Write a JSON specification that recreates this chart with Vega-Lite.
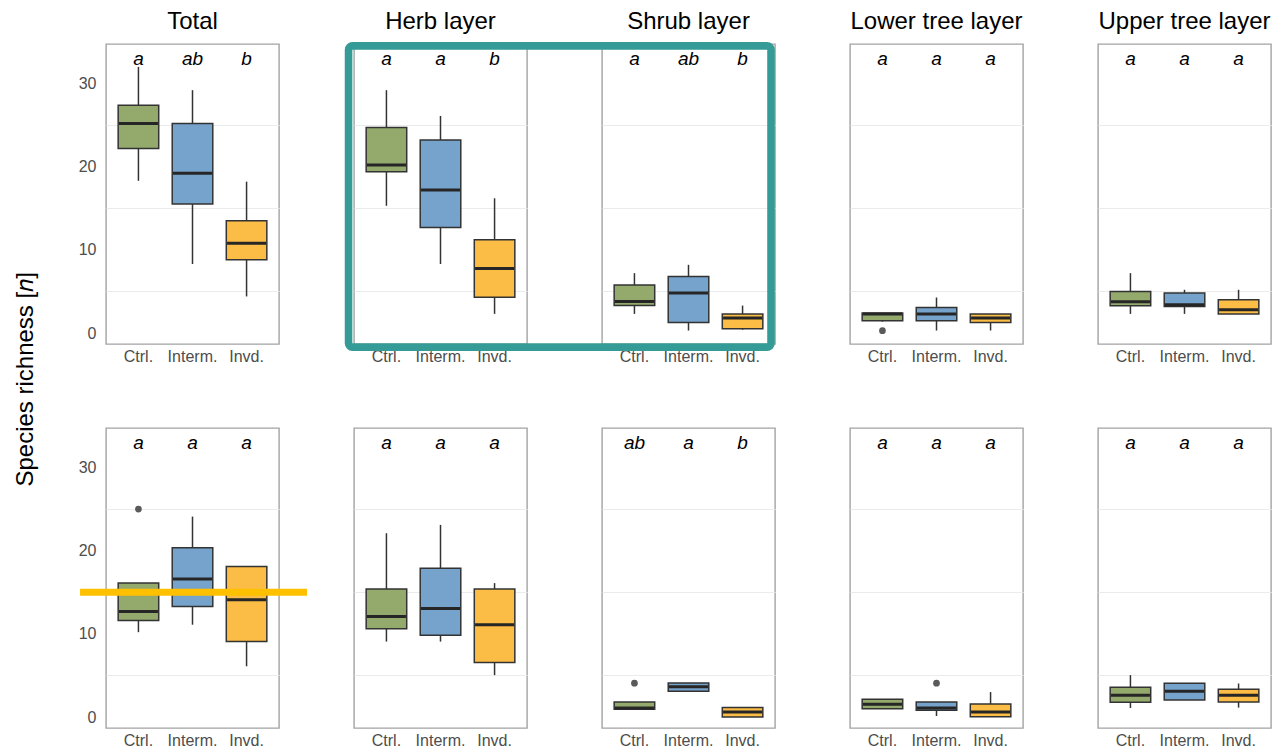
{
  "$schema": "https://vega.github.io/schema/vega-lite/v6.json",
  "background": "white",
  "padding": {"left": 13, "top": 10, "right": 5, "bottom": 0},
  "title": {
    "text": "Species richness [𝑛]",
    "orient": "left",
    "anchor": "middle",
    "fontSize": 24,
    "fontWeight": "normal",
    "color": "black",
    "font": "Liberation Sans",
    "offset": 38
  },
  "config": {
    "font": "Liberation Sans",
    "view": {"stroke": "#a3a3a3", "strokeWidth": 1.4},
    "axis": {
      "labelFont": "Liberation Sans",
      "labelFontSize": 16,
      "labelColor": "#4d4d4d",
      "ticks": false,
      "domain": false,
      "titleFont": "Liberation Sans"
    },
    "header": {"labelFont": "Liberation Sans"}
  },
  "data": {
    "values": [
      {"survey": "top", "layer": "Total", "part": "box", "trt": "Ctrl.", "lo": 18.3, "q1": 22.2, "med": 25.2, "q3": 27.4, "hi": 32, "sig": "a"},
      {"survey": "top", "layer": "Total", "part": "box", "trt": "Interm.", "lo": 8.3, "q1": 15.5, "med": 19.2, "q3": 25.2, "hi": 29.2, "sig": "ab"},
      {"survey": "top", "layer": "Total", "part": "box", "trt": "Invd.", "lo": 4.4, "q1": 8.8, "med": 10.8, "q3": 13.5, "hi": 18.2, "sig": "b"},
      {"survey": "top", "layer": "Herb layer", "part": "box", "trt": "Ctrl.", "lo": 15.3, "q1": 19.4, "med": 20.2, "q3": 24.7, "hi": 29.2, "sig": "a"},
      {"survey": "top", "layer": "Herb layer", "part": "box", "trt": "Interm.", "lo": 8.3, "q1": 12.7, "med": 17.2, "q3": 23.2, "hi": 26.1, "sig": "a"},
      {"survey": "top", "layer": "Herb layer", "part": "box", "trt": "Invd.", "lo": 2.3, "q1": 4.3, "med": 7.75, "q3": 11.2, "hi": 16.2, "sig": "b"},
      {"survey": "top", "layer": "Shrub layer", "part": "box", "trt": "Ctrl.", "lo": 2.3, "q1": 3.3, "med": 3.8, "q3": 5.76, "hi": 7.2, "sig": "a"},
      {"survey": "top", "layer": "Shrub layer", "part": "box", "trt": "Interm.", "lo": 0.3, "q1": 1.27, "med": 4.8, "q3": 6.8, "hi": 8.2, "sig": "ab"},
      {"survey": "top", "layer": "Shrub layer", "part": "box", "trt": "Invd.", "lo": 0.4, "q1": 0.52, "med": 1.8, "q3": 2.28, "hi": 3.3, "sig": "b"},
      {"survey": "top", "layer": "Lower tree layer", "part": "box", "trt": "Ctrl.", "lo": 1.36, "q1": 1.48, "med": 2.28, "q3": 2.4, "hi": 2.4, "sig": "a"},
      {"survey": "top", "layer": "Lower tree layer", "part": "box", "trt": "Interm.", "lo": 0.3, "q1": 1.48, "med": 2.3, "q3": 3.07, "hi": 4.27, "sig": "a"},
      {"survey": "top", "layer": "Lower tree layer", "part": "box", "trt": "Invd.", "lo": 0.3, "q1": 1.27, "med": 1.8, "q3": 2.28, "hi": 2.28, "sig": "a"},
      {"survey": "top", "layer": "Upper tree layer", "part": "box", "trt": "Ctrl.", "lo": 2.3, "q1": 3.28, "med": 3.76, "q3": 5.0, "hi": 7.2, "sig": "a"},
      {"survey": "top", "layer": "Upper tree layer", "part": "box", "trt": "Interm.", "lo": 2.3, "q1": 3.2, "med": 3.4, "q3": 4.8, "hi": 5.2, "sig": "a"},
      {"survey": "top", "layer": "Upper tree layer", "part": "box", "trt": "Invd.", "lo": 2.28, "q1": 2.28, "med": 2.8, "q3": 4.0, "hi": 5.2, "sig": "a"},
      {"survey": "bottom", "layer": "Total", "part": "box", "trt": "Ctrl.", "lo": 10.2, "q1": 11.6, "med": 12.7, "q3": 16.1, "hi": 16.1, "sig": "a"},
      {"survey": "bottom", "layer": "Total", "part": "box", "trt": "Interm.", "lo": 11.1, "q1": 13.3, "med": 16.6, "q3": 20.35, "hi": 24.1, "sig": "a"},
      {"survey": "bottom", "layer": "Total", "part": "box", "trt": "Invd.", "lo": 6.1, "q1": 9.07, "med": 14.1, "q3": 18.1, "hi": 18.1, "sig": "a"},
      {"survey": "bottom", "layer": "Herb layer", "part": "box", "trt": "Ctrl.", "lo": 9.07, "q1": 10.6, "med": 12.1, "q3": 15.4, "hi": 22.1, "sig": "a"},
      {"survey": "bottom", "layer": "Herb layer", "part": "box", "trt": "Interm.", "lo": 9.07, "q1": 9.83, "med": 13.06, "q3": 17.9, "hi": 23.1, "sig": "a"},
      {"survey": "bottom", "layer": "Herb layer", "part": "box", "trt": "Invd.", "lo": 5.04, "q1": 6.57, "med": 11.1, "q3": 15.4, "hi": 16.1, "sig": "a"},
      {"survey": "bottom", "layer": "Shrub layer", "part": "box", "trt": "Ctrl.", "lo": 0.93, "q1": 0.93, "med": 1.09, "q3": 1.81, "hi": 1.81, "sig": "ab"},
      {"survey": "bottom", "layer": "Shrub layer", "part": "box", "trt": "Interm.", "lo": 3.1, "q1": 3.1, "med": 3.63, "q3": 4.1, "hi": 4.1, "sig": "a"},
      {"survey": "bottom", "layer": "Shrub layer", "part": "box", "trt": "Invd.", "lo": 0, "q1": 0, "med": 0.6, "q3": 1.13, "hi": 1.13, "sig": "b"},
      {"survey": "bottom", "layer": "Lower tree layer", "part": "box", "trt": "Ctrl.", "lo": 1.0, "q1": 1.0, "med": 1.53, "q3": 2.14, "hi": 2.14, "sig": "a"},
      {"survey": "bottom", "layer": "Lower tree layer", "part": "box", "trt": "Interm.", "lo": 0.12, "q1": 0.81, "med": 1.09, "q3": 1.81, "hi": 1.81, "sig": "a"},
      {"survey": "bottom", "layer": "Lower tree layer", "part": "box", "trt": "Invd.", "lo": 0.04, "q1": 0.04, "med": 0.6, "q3": 1.57, "hi": 3.0, "sig": "a"},
      {"survey": "bottom", "layer": "Upper tree layer", "part": "box", "trt": "Ctrl.", "lo": 1.09, "q1": 1.78, "med": 2.62, "q3": 3.59, "hi": 5.04, "sig": "a"},
      {"survey": "bottom", "layer": "Upper tree layer", "part": "box", "trt": "Interm.", "lo": 2.05, "q1": 2.05, "med": 3.1, "q3": 4.07, "hi": 4.07, "sig": "a"},
      {"survey": "bottom", "layer": "Upper tree layer", "part": "box", "trt": "Invd.", "lo": 1.13, "q1": 1.81, "med": 2.62, "q3": 3.35, "hi": 4.03, "sig": "a"},
      {"survey": "top", "layer": "Lower tree layer", "part": "outlier", "trt": "Ctrl.", "out": 0.28},
      {"survey": "bottom", "layer": "Total", "part": "outlier", "trt": "Ctrl.", "out": 25},
      {"survey": "bottom", "layer": "Shrub layer", "part": "outlier", "trt": "Ctrl.", "out": 4.07},
      {"survey": "bottom", "layer": "Lower tree layer", "part": "outlier", "trt": "Interm.", "out": 4.07},
      {"survey": "top", "layer": "Shrub layer", "part": "frame"},
      {"survey": "bottom", "layer": "Total", "part": "line"}
    ]
  },
  "facet": {
    "row": {"field": "survey", "type": "nominal", "sort": ["top", "bottom"], "header": null},
    "column": {
      "field": "layer",
      "type": "nominal",
      "sort": ["Total", "Herb layer", "Shrub layer", "Lower tree layer", "Upper tree layer"],
      "header": {"title": null, "labelFontSize": 24, "labelColor": "black", "labelPadding": 10}
    }
  },
  "bounds": "flush",
  "spacing": {"row": 84, "column": 75},
  "resolve": {"axis": {"x": "independent"}},
  "spec": {
    "width": 173,
    "height": 300,
    "resolve": {"scale": {"x": "independent"}},
    "layer": [
      {
        "encoding": {
          "x": {
            "field": "trt",
            "type": "nominal",
            "scale": {"domain": ["Ctrl.", "Interm.", "Invd."], "paddingInner": 0.25, "paddingOuter": 0.225},
            "axis": {"title": null, "labelAngle": 0, "labelPadding": 4}
          }
        },
        "layer": [
          {
            "transform": [{"filter": "datum.part === 'box'"}],
            "mark": {"type": "rule", "color": "#333333", "strokeWidth": 1.5},
            "encoding": {
              "y": {
                "field": "lo",
                "type": "quantitative",
                "scale": {"domain": [-1.32, 34.75], "nice": false, "zero": false},
                "axis": {
                  "title": null,
                  "values": [0, 5, 10, 15, 20, 25, 30],
                  "labelExpr": "datum.value % 10 === 0 ? datum.label : ''",
                  "labelPadding": 10,
                  "grid": true,
                  "gridColor": {"condition": {"test": "datum.value % 10 === 5", "value": "#ebebeb"}, "value": "rgba(0,0,0,0)"},
                  "gridWidth": 1
                }
              },
              "y2": {"field": "hi"}
            }
          },
          {
            "transform": [{"filter": "datum.part === 'box'"}],
            "mark": {"type": "bar", "stroke": "#333333", "strokeWidth": 1.5},
            "encoding": {
              "y": {"field": "q1", "type": "quantitative"},
              "y2": {"field": "q3"},
              "color": {
                "field": "trt",
                "type": "nominal",
                "scale": {"domain": ["Ctrl.", "Interm.", "Invd."], "range": ["#93aa6c", "#76a3cb", "#fbbd45"]},
                "legend": null
              }
            }
          },
          {
            "transform": [{"filter": "datum.part === 'box'"}],
            "mark": {"type": "tick", "color": "#262626", "thickness": 3, "size": 39, "opacity": 1},
            "encoding": {"y": {"field": "med", "type": "quantitative"}}
          },
          {
            "transform": [{"filter": "datum.part === 'outlier'"}],
            "mark": {"type": "point", "filled": true, "color": "#5a5a5a", "size": 45, "opacity": 1},
            "encoding": {"y": {"field": "out", "type": "quantitative"}}
          },
          {
            "transform": [{"filter": "datum.part === 'box'"}],
            "mark": {"type": "text", "fontStyle": "italic", "fontSize": 19, "color": "black", "baseline": "middle"},
            "encoding": {"y": {"datum": 33}, "text": {"field": "sig"}}
          }
        ]
      },
      {
        "layer": [
          {
            "transform": [{"filter": "datum.part === 'frame'"}],
            "mark": {"type": "rect", "fillOpacity": 0, "stroke": "#359b96", "strokeWidth": 7.6, "cornerRadius": 4, "clip": false},
            "encoding": {
              "x": {"datum": -1.465, "type": "quantitative", "scale": {"domain": [0, 1]}, "axis": null},
              "x2": {"datum": 0.977},
              "y": {"datum": 34.53},
              "y2": {"datum": -1.7}
            }
          },
          {
            "transform": [{"filter": "datum.part === 'line'"}],
            "mark": {"type": "rule", "color": "#ffc000", "strokeWidth": 7, "strokeCap": "butt", "clip": false},
            "encoding": {
              "x": {"datum": -0.15, "type": "quantitative"},
              "x2": {"datum": 1.162},
              "y": {"datum": 15}
            }
          }
        ]
      }
    ]
  }
}
